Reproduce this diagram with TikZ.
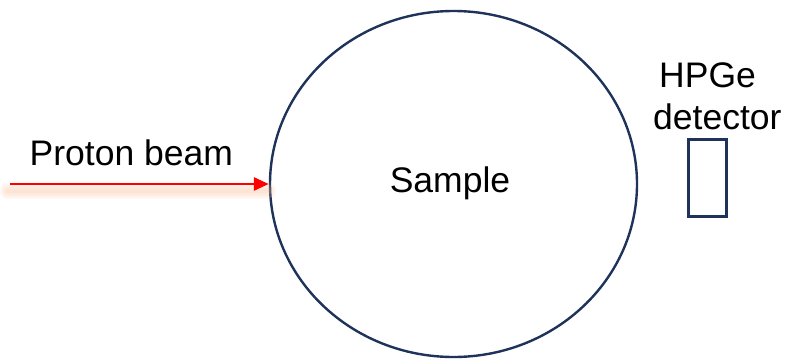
\documentclass[tikz,border=0pt]{standalone}
\usepackage{fontspec}
\setmainfont{Liberation Sans}
\usetikzlibrary{shapes.geometric,arrows.meta}
\definecolor{navy}{RGB}{31,50,90}
\definecolor{beamred}{RGB}{255,0,0}
\definecolor{glow}{RGB}{250,190,150}
\tikzset{
  outline/.style={draw=navy, line width=2.4pt},
  lbl/.style={font=\fontsize{35.5}{42}\selectfont, inner sep=0pt},
  beam/.style={draw=beamred, line width=2.8pt, -{Triangle[length=15pt,width=13pt]}},
}
\begin{document}
\begin{tikzpicture}[x=1pt,y=1pt]
\useasboundingbox (0,0) rectangle (795,360);
\node[outline, ellipse, minimum width=367pt, minimum height=346pt, inner sep=0pt] (sample) at (453.5,176) {};
\node[lbl, anchor=base] (samplelabel) at (450,168) {Sample};
% glow under the beam
\coordinate (gs) at (8,169);
\coordinate (ge) at (268,169);
\foreach \w in {4,8,12,16}{
  \draw[glow, line width=\w pt, opacity=0.12, line cap=round] (gs) -- (ge);
}
\coordinate (beamstart) at (10,176);
\draw[beam] (beamstart) -- (sample.west);
\node[lbl, anchor=base west] (proton) at (29.5,195) {Proton beam};
\node[draw=navy, line width=2.2pt, minimum width=38pt, minimum height=77pt, inner sep=0pt] (detector) at (707.5,182) {};
\node[lbl, anchor=base west] (hpge) at (659,273) {HPGe};
\node[lbl, anchor=base west] (det) at (653,231) {detector};
\end{tikzpicture}
\end{document}
